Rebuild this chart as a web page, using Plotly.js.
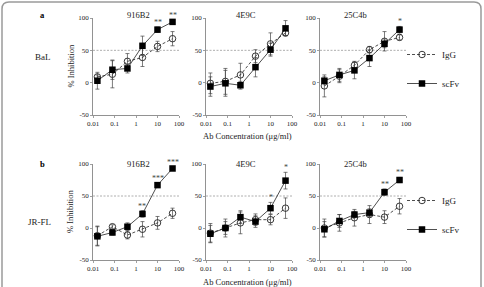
<!DOCTYPE html>
<html>
<head>
<meta charset="utf-8">
<script src="https://cdn.plot.ly/plotly-3.0.1.min.js"></script>
<style>
  html, body { margin: 0; padding: 0; background: #fff; }
  #chart { width: 484px; height: 287px; }
</style>
</head>
<body>
<div id="chart"></div>
<script>
// Antibody concentrations (µg/ml), 5-fold dilution series
const conc = [0.016, 0.08, 0.4, 2, 10, 50];

// Panel names and virus strains
const abNames = ['916B2', '4E9C', '25C4b'];
const virusNames = ['BaL', 'JR-FL'];
const panelLetters = ['a', 'b'];

// % inhibition, BaL
const bal916Igg = [9, 13, 33, 39, 56, 68];
const bal916IggErr = [3, 21, 12, 14, 8, 11];
const bal916Scfv = [3, 20, 22, 57, 82, 94];
const bal916ScfvErr = [13, 15, 7, 15, 4, 3];
const bal4e9cIgg = [-1, 2, 12, 41, 60, 77];
const bal4e9cIggErr = [16, 20, 18, 10, 17, 4];
const bal4e9cScfv = [-6, -1, -4, 24, 51, 84];
const bal4e9cScfvErr = [15, 20, 6, 15, 10, 12];
const bal25Igg = [-5, 10, 27, 51, 64, 70];
const bal25IggErr = [17, 10, 6, 5, 15, 4];
const bal25Scfv = [3, 12, 19, 38, 60, 82];
const bal25ScfvErr = [6, 10, 13, 13, 6, 5];

// % inhibition, JR-FL
const jr916Igg = [-12, 2, -11, -2, 8, 23];
const jr916IggErr = [15, 3, 6, 12, 10, 8];
const jr916Scfv = [-13, -7, 2, 22, 67, 93];
const jr916ScfvErr = [15, 4, 6, 5, 3, 3];
const jr4e9cIgg = [-8, 0, 8, 13, 13, 31];
const jr4e9cIggErr = [15, 14, 17, 9, 8, 16];
const jr4e9cScfv = [-9, 0, 17, 10, 31, 74];
const jr4e9cScfvErr = [13, 10, 10, 9, 9, 13];
const jr25Igg = [0, 8, 16, 21, 17, 34];
const jr25IggErr = [14, 13, 13, 14, 10, 12];
const jr25Scfv = [-2, 11, 21, 24, 56, 75];
const jr25ScfvErr = [12, 10, 5, 6, 5, 4];

// Significance marks (scFv vs IgG) per concentration
const bal916Stars = ['', '', '', '', '**', '**'];
const bal4e9cStars = ['', '', '', '', '', ''];
const bal25Stars = ['', '', '', '', '', '*'];
const jr916Stars = ['', '', '', '**', '***', '***'];
const jr4e9cStars = ['', '', '', '', '*', '*'];
const jr25Stars = ['', '', '', '', '**', '**'];

// Tick labels
const xTickVals = [0.01, 0.1, 1, 10, 100];
const xTickText = ['0.01', '0.1', '1', '10', '100'];
const yTickVals = [-50, 0, 50, 100];
const yTickText = ['-50', '0', '50', '100'];
const refLevel = 50;

const panels = [
  {igg: bal916Igg, iggErr: bal916IggErr, scfv: bal916Scfv, scfvErr: bal916ScfvErr, stars: bal916Stars},
  {igg: bal4e9cIgg, iggErr: bal4e9cIggErr, scfv: bal4e9cScfv, scfvErr: bal4e9cScfvErr, stars: bal4e9cStars},
  {igg: bal25Igg, iggErr: bal25IggErr, scfv: bal25Scfv, scfvErr: bal25ScfvErr, stars: bal25Stars},
  {igg: jr916Igg, iggErr: jr916IggErr, scfv: jr916Scfv, scfvErr: jr916ScfvErr, stars: jr916Stars},
  {igg: jr4e9cIgg, iggErr: jr4e9cIggErr, scfv: jr4e9cScfv, scfvErr: jr4e9cScfvErr, stars: jr4e9cStars},
  {igg: jr25Igg, iggErr: jr25IggErr, scfv: jr25Scfv, scfvErr: jr25ScfvErr, stars: jr25Stars}
];

// Figure geometry in pixels (margins are zero, so paper == figure)
const W = 484, H = 287;
const colPx = [[93, 179], [206, 292], [320, 406]];
const rowPx = [[18, 115], [164, 260]];   // y pixel of 100 and -50
const px = v => v / W;
const py = v => 1 - v / H;

const FONT = 'Liberation Serif, Times New Roman, serif';
const INK = '#222';

const traces = [];
const layout = {
  width: W, height: H,
  margin: {l: 0, r: 0, t: 0, b: 0},
  paper_bgcolor: '#fff',
  plot_bgcolor: 'rgba(0,0,0,0)',
  font: {family: FONT, size: 7, color: INK},
  showlegend: true,
  annotations: [],
  shapes: []
};

// Text placed in figure pixels, centred on (x, y)
function label(x, y, text, size, extra) {
  return Object.assign({
    xref: 'paper', yref: 'paper', x: px(x), y: py(y),
    xanchor: 'center', yanchor: 'middle', showarrow: false, text: text,
    font: {family: FONT, size: size, color: INK}
  }, extra || {});
}

panels.forEach((p, i) => {
  const n = i + 1;
  const sfx = n === 1 ? '' : String(n);
  const xa = 'x' + sfx, ya = 'y' + sfx;
  const row = Math.floor(i / 3), col = i % 3;
  const legendName = row === 0 ? 'legend' : 'legend2';
  const showLeg = col === 2;

  traces.push({
    x: conc, y: p.igg, xaxis: xa, yaxis: ya,
    type: 'scatter', mode: 'lines+markers', name: 'IgG',
    legend: legendName, legendgroup: 'igg' + row, showlegend: showLeg,
    line: {color: INK, width: 0.8, dash: '3px,2px'},
    marker: {symbol: 'circle-open', size: 6.5, color: INK, line: {width: 0.9, color: INK}},
    error_y: {type: 'data', array: p.iggErr, visible: true, color: '#444', thickness: 0.7, width: 2},
    cliponaxis: false
  });
  traces.push({
    x: conc, y: p.scfv, xaxis: xa, yaxis: ya,
    type: 'scatter', mode: 'lines+markers', name: 'scFv',
    legend: legendName, legendgroup: 'scfv' + row, showlegend: showLeg,
    line: {color: INK, width: 0.8},
    marker: {symbol: 'square', size: 6.5, color: '#000'},
    error_y: {type: 'data', array: p.scfvErr, visible: true, color: '#444', thickness: 0.7, width: 2},
    cliponaxis: false
  });

  const xDom = [px(colPx[col][0]), px(colPx[col][1])];
  const yDom = [py(rowPx[row][1]), py(rowPx[row][0])];
  layout['xaxis' + sfx] = {
    domain: xDom, anchor: ya, type: 'log', range: [-2, 2],
    tickmode: 'array', tickvals: xTickVals, ticktext: xTickText,
    ticks: 'outside', ticklen: 2, tickwidth: 0.7, tickcolor: '#777',
    showline: true, linecolor: '#777', linewidth: 0.8,
    showgrid: false, zeroline: false,
    tickfont: {family: FONT, size: 7, color: INK}
  };
  layout['yaxis' + sfx] = {
    domain: yDom, anchor: xa, range: [-50, 100],
    tickmode: 'array', tickvals: yTickVals, ticktext: yTickText,
    ticks: 'outside', ticklen: 2, tickwidth: 0.7, tickcolor: '#777',
    showline: true, linecolor: '#777', linewidth: 0.8,
    showgrid: false, zeroline: false,
    tickfont: {family: FONT, size: 7, color: INK}
  };

  // 50% inhibition reference line
  layout.shapes.push({
    type: 'line', xref: xa, yref: ya, x0: xTickVals[0], x1: xTickVals[xTickVals.length - 1],
    y0: refLevel, y1: refLevel,
    line: {color: '#999', width: 0.8, dash: '2px,1.5px'}, layer: 'below'
  });

  // Significance marks above the scFv points
  p.stars.forEach((s, k) => {
    if (!s) return;
    layout.annotations.push({
      xref: xa, yref: ya, x: Math.log10(conc[k]), y: p.scfv[k] + p.scfvErr[k],
      text: s, showarrow: false, yanchor: 'bottom', xanchor: 'center',
      font: {family: FONT, size: 8, color: '#444'}, yshift: -2
    });
  });

  // Antibody name above each panel
  layout.annotations.push(label([138, 246, 355][col], row === 0 ? 15 : 164, abNames[col], 8.5));
});

// Row labels, panel letters and shared axis titles
[0, 1].forEach(row => {
  const top = rowPx[row][0], bot = rowPx[row][1];
  layout.annotations.push(label(42, row === 0 ? 15 : 164, '<b>' + panelLetters[row] + '</b>', 8.5,
    {font: {family: FONT, size: 8.5, color: '#000'}}));
  layout.annotations.push(label(row === 0 ? 43 : 39, row === 0 ? 57 : 222, virusNames[row], 9));
  layout.annotations.push(label(70, (top + bot) / 2, '% Inhibition', 8.5, {textangle: -90}));
  layout.annotations.push(label(247, row === 0 ? 136 : 282, 'Ab Concentration (\u03bcg/ml)', 8.5));
});

// Legends to the right of each row
const legendCommon = {
  xanchor: 'left', yanchor: 'top', bgcolor: 'rgba(0,0,0,0)',
  font: {family: FONT, size: 9, color: INK},
  tracegroupgap: 10, itemwidth: 30
};
layout.legend = Object.assign({x: px(402), y: py(40)}, legendCommon);
layout.legend2 = Object.assign({x: px(402), y: py(186)}, legendCommon);

// Rounded frame around the figure
const fx0 = px(2), fx1 = px(481), fyt = py(2), fyb = py(300);
const rx = px(7), ry = 7 / H;
layout.shapes.push({
  type: 'path', xref: 'paper', yref: 'paper',
  path: `M ${fx0} ${fyb} L ${fx0} ${fyt - ry} Q ${fx0} ${fyt} ${fx0 + rx} ${fyt} ` +
        `L ${fx1 - rx} ${fyt} Q ${fx1} ${fyt} ${fx1} ${fyt - ry} L ${fx1} ${fyb}`,
  line: {color: '#9a9a9a', width: 1.5}
});

Plotly.newPlot('chart', traces, layout, {staticPlot: true, displayModeBar: false});
</script>
</body>
</html>
